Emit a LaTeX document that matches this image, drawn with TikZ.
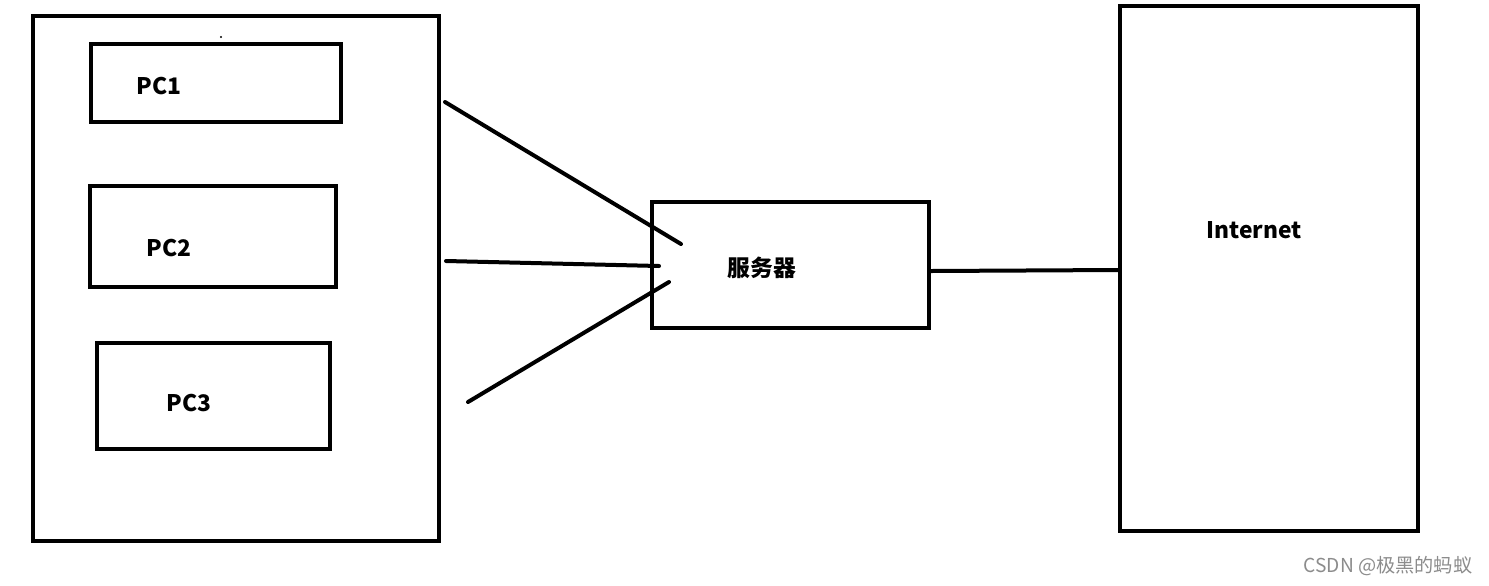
\documentclass[tikz,border=0pt]{standalone}
\usepackage{fontspec}
\setmainfont{Noto Sans CJK SC}
\begin{document}
\begin{tikzpicture}[x=0.5pt,y=-0.5pt,
  box/.style={draw=black,line width=2pt,inner sep=0pt,fill=none},
  lbl/.style={font=\fontsize{11.4}{14}\selectfont\bfseries,inner sep=0pt},
  wire/.style={line width=2pt,line cap=round}]
\useasboundingbox[fill=white] (0,0) rectangle (1489,585);
% left container
\node[box,minimum width=203pt,minimum height=262.5pt] (lan) at (236,278.5) {};
\node[box,minimum width=125pt,minimum height=39pt] (pc1) at (216,83) {};
\node[box,minimum width=123pt,minimum height=50.5pt] (pc2) at (213,236.5) {};
\node[box,minimum width=116.5pt,minimum height=53pt] (pc3) at (213.5,396) {};
\node[lbl] (t1) at (159,86) {PC1};
\node[lbl] (t2) at (169,248) {PC2};
\node[lbl] (t3) at (189,403) {PC3};
\fill (221,37) circle (0.6pt);
% server
\node[box,minimum width=138.5pt,minimum height=63pt] (srv) at (790.5,264.5) {};
\node[lbl] (ts) at (762,268) {服务器};
% internet
\node[box,minimum width=149pt,minimum height=262.5pt] (inet) at (1269,268.5) {};
\node[lbl] (ti) at (1254,230) {Internet};
% connectors
\coordinate (a1) at (445,102); \coordinate (b1) at (681,244);
\coordinate (a2) at (446,261); \coordinate (b2) at (659,266);
\coordinate (a3) at (468,402); \coordinate (b3) at (669,282);
\draw[wire] (a1) -- (b1);
\draw[wire] (a2) -- (b2);
\draw[wire] (a3) -- (b3);
\draw[wire,line cap=butt] (srv.east |- 0,271) -- (inet.west |- 0,270);
% watermark
\node[font=\fontsize{9.6}{11}\selectfont,text=black!45,inner sep=0pt] (wm) at (1388,566) {CSDN @极黑的蚂蚁};
\end{tikzpicture}
\end{document}
